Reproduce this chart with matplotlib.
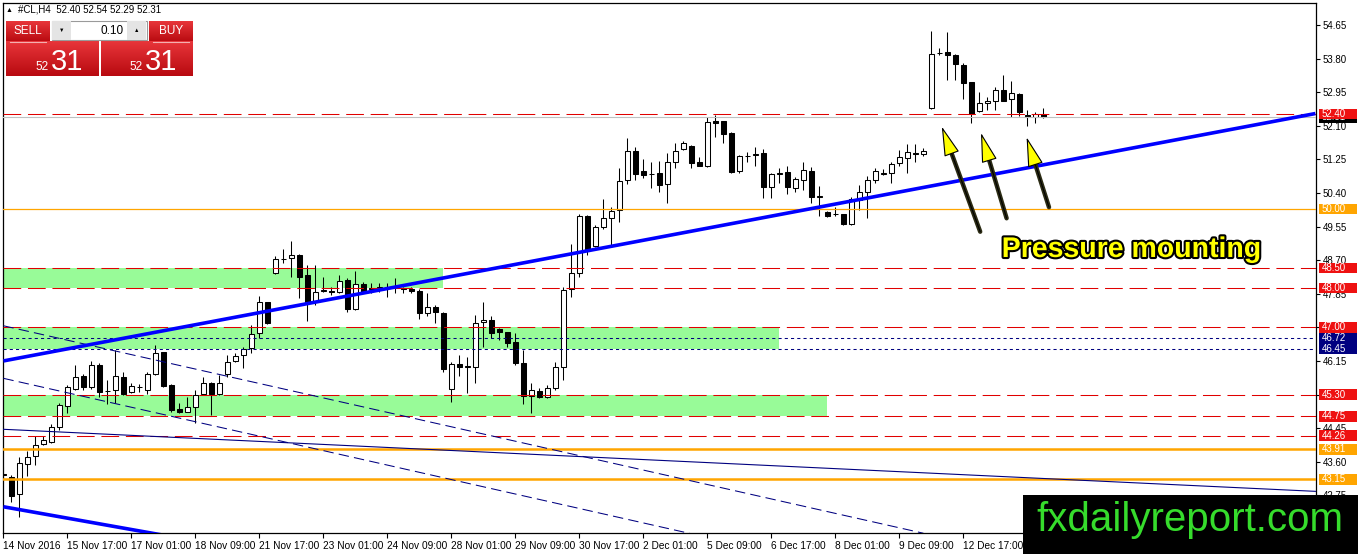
import matplotlib
matplotlib.use("Agg")
import matplotlib.pyplot as plt
import matplotlib.patheffects as pe
import matplotlib.transforms as mtransforms
from matplotlib.patches import Rectangle, FancyArrowPatch
from matplotlib.colors import LinearSegmentedColormap
import numpy as np

plt.rcParams['font.family'] = ['Liberation Sans', 'DejaVu Sans']

# H4 candles, #CL, 14 Nov - 12 Dec 2016
opens = [43.30, 43.22, 42.78, 43.53, 43.74, 44.04, 44.11, 44.49, 45.02, 45.44,
         45.77, 45.50, 46.05, 45.40, 45.41, 45.75, 45.36, 45.49, 45.41, 45.81,
         46.38, 45.54, 44.93, 44.87, 44.98, 45.31, 45.59, 45.31, 45.82, 46.16,
         46.29, 46.47, 46.85, 47.64, 48.37, 48.72, 48.75, 48.83, 48.32, 47.65,
         47.93, 47.91, 47.89, 48.21, 47.46, 48.09, 47.99, 48.00, 48.02, 48.03,
         48.00, 47.96, 47.92, 47.36, 47.51, 47.37, 45.43, 46.07, 46.00, 46.00,
         47.13, 47.19, 46.95, 46.87, 46.62, 46.11, 45.26, 45.40, 45.23, 45.46,
         46.00, 47.96, 48.37, 49.82, 49.07, 49.53, 49.76, 49.97, 50.73, 51.46,
         50.96, 50.88, 50.91, 50.63, 51.19, 51.50, 51.59, 51.18, 51.09, 52.22,
         52.22, 51.92, 50.96, 51.33, 51.36, 51.40, 50.54, 50.89, 50.94, 50.52,
         50.73, 50.96, 50.29, 49.91, 49.87, 49.87, 49.61, 50.22, 50.43, 50.73,
         50.89, 50.90, 51.15, 51.28, 51.42, 51.38, 52.54, 53.94, 53.96, 53.88,
         53.64, 53.22, 52.48, 52.67, 52.73, 53.01, 52.77, 52.90, 52.37, 52.33,
         52.40]
highs = [43.47, 43.26, 43.73, 43.88, 44.25, 44.25, 44.55, 45.08, 45.54, 46.05,
         45.82, 46.16, 46.09, 45.67, 46.43, 45.88, 45.58, 45.57, 45.88, 46.55,
         46.38, 45.57, 45.08, 45.24, 45.41, 45.75, 45.62, 45.79, 46.30, 46.34,
         46.49, 47.06, 47.79, 47.64, 48.81, 48.97, 49.18, 48.86, 48.58, 48.58,
         48.28, 48.01, 48.33, 48.26, 48.43, 48.15, 48.13, 48.11, 48.13, 48.24,
         48.03, 48.01, 47.96, 47.86, 47.56, 47.39, 46.13, 46.30, 46.26, 47.31,
         47.65, 47.29, 46.99, 46.89, 46.85, 46.43, 45.60, 45.46, 45.54, 46.13,
         48.03, 49.10, 49.87, 49.84, 49.59, 50.24, 50.05, 51.02, 51.78, 51.57,
         51.27, 51.19, 51.21, 51.40, 51.66, 51.71, 51.61, 51.32, 52.33, 52.37,
         52.23, 51.94, 51.36, 51.44, 51.57, 51.51, 50.90, 51.02, 51.08, 50.81,
         51.19, 51.06, 50.58, 49.94, 50.05, 49.88, 50.29, 50.60, 50.83, 51.02,
         51.00, 51.19, 51.49, 51.63, 51.63, 51.53, 54.50, 54.06, 54.47, 53.91,
         53.68, 53.22, 52.96, 52.82, 53.09, 53.39, 53.23, 52.94, 52.50, 52.44,
         52.54]
lows = [43.14, 42.59, 42.19, 43.24, 43.52, 44.02, 44.07, 44.40, 44.84, 45.41,
        45.41, 45.43, 45.24, 45.06, 45.08, 45.29, 45.33, 45.37, 45.31, 45.80,
        45.50, 44.87, 44.84, 44.87, 44.57, 45.29, 44.78, 45.29, 45.75, 46.12,
        45.98, 46.36, 46.72, 47.08, 48.35, 48.62, 48.28, 47.73, 47.17, 47.56,
        47.90, 47.82, 47.86, 47.39, 47.43, 47.86, 47.86, 47.90, 47.77, 47.88,
        47.86, 47.88, 47.20, 47.29, 47.10, 45.88, 45.12, 45.77, 45.35, 45.60,
        46.51, 46.72, 46.68, 46.51, 46.05, 45.06, 44.83, 45.20, 45.20, 45.41,
        45.67, 47.77, 48.27, 48.83, 49.04, 49.50, 49.07, 49.67, 50.62, 50.73,
        50.77, 50.52, 50.43, 50.15, 51.02, 51.49, 51.02, 51.08, 51.06, 51.82,
        51.67, 50.91, 50.91, 51.19, 51.07, 50.27, 50.28, 50.66, 50.37, 50.43,
        50.47, 50.14, 49.82, 49.78, 49.82, 49.59, 49.59, 49.97, 49.76, 50.64,
        50.86, 50.64, 51.07, 50.91, 51.19, 51.34, 52.52, 53.89, 53.26, 53.26,
        52.78, 52.16, 52.46, 52.50, 52.50, 52.73, 52.33, 52.36, 52.09, 52.16,
        52.29]
closes = [43.26, 42.74, 43.56, 43.71, 44.02, 44.14, 44.49, 45.03, 45.50, 45.75,
          45.50, 46.05, 45.37, 45.38, 45.77, 45.31, 45.51, 45.48, 45.81, 46.34,
          45.52, 44.91, 44.87, 44.98, 45.29, 45.58, 45.31, 45.58, 46.13, 46.28,
          46.45, 46.82, 47.63, 47.10, 48.72, 48.73, 48.83, 48.28, 47.63, 47.89,
          47.94, 47.90, 48.18, 47.46, 48.10, 47.90, 47.98, 48.01, 48.03, 48.02,
          47.97, 47.92, 47.36, 47.52, 47.38, 45.94, 46.07, 45.99, 46.01, 47.10,
          47.19, 46.86, 46.89, 46.61, 46.10, 45.26, 45.41, 45.23, 45.46, 46.00,
          47.94, 48.37, 49.82, 48.96, 49.55, 49.77, 49.94, 50.70, 51.46, 50.87,
          50.85, 50.87, 50.60, 51.19, 51.47, 51.67, 51.17, 51.09, 52.20, 52.18,
          51.88, 50.94, 51.33, 51.34, 51.38, 50.56, 50.88, 50.90, 50.54, 50.75,
          50.98, 50.29, 50.33, 49.82, 49.86, 49.61, 50.25, 50.43, 50.73, 50.96,
          50.91, 51.13, 51.32, 51.43, 51.38, 51.46, 53.92, 53.95, 53.88, 53.66,
          53.19, 52.40, 52.67, 52.73, 53.01, 52.73, 52.94, 52.44, 52.33, 52.39,
          52.31]

time_labels = ["14 Nov 2016", "15 Nov 17:00", "17 Nov 01:00", "18 Nov 09:00",
               "21 Nov 17:00", "23 Nov 01:00", "24 Nov 09:00", "28 Nov 01:00",
               "29 Nov 09:00", "30 Nov 17:00", "2 Dec 01:00", "5 Dec 09:00",
               "6 Dec 17:00", "8 Dec 01:00", "9 Dec 09:00", "12 Dec 17:00"]
price_ticks = [42.75, 43.60, 44.45, 45.30, 46.15, 47.00, 47.85, 48.70,
               49.55, 50.40, 51.25, 52.10, 52.95, 53.80, 54.65]

red_levels = [52.40, 48.50, 48.00, 47.00, 45.30, 44.75, 44.26]
blue_levels = [46.72, 46.45]
orange_thin = [50.00]
orange_thick = [43.91, 43.15]
bid_price = 52.31

# support zones: (low, high, last bar)
zone_low = [48.00, 46.45, 44.75]
zone_high = [48.50, 47.00, 45.30]
zone_end = [55, 97, 103]

# trend lines (bar index, price)
trend_up_x, trend_up_y = [0, 164], [46.15, 52.41]
trend_low_x, trend_low_y = [0, 20], [42.46, 41.74]
chan_x, chan_y = [0, 164], [44.42, 42.85]
dash_a_x, dash_a_y = [0, 115], [47.04, 41.79]
dash_b_x, dash_b_y = [0, 87], [45.71, 41.73]

# arrows (tail -> tip)
arrow_tail = [(122.1, 49.42), (125.4, 49.76), (130.7, 50.04)]
arrow_tip = [(117.3, 52.08), (122.2, 51.92), (127.9, 51.81)]

W, H = 1358, 554
fig = plt.figure(figsize=(W / 100, H / 100), dpi=100)
ax = fig.add_axes([3 / W, 21 / H, 1313 / W, 530 / H])
ax.set_xlim(-0.05, -0.05 + 1313 / 8)
ax.set_ylim(41.796, 55.207)

o = np.array(opens); c = np.array(closes)
hi = np.array(highs); lo = np.array(lows)
x = np.arange(len(o))
up = c >= o

# zones
for zl, zh, ze in zip(zone_low, zone_high, zone_end):
    ax.add_patch(Rectangle((-1, zl), ze + 1, zh - zl, facecolor='#98fb98',
                           edgecolor='none', zorder=1))

# candles
ax.vlines(x, lo, hi, color='black', lw=0.75, zorder=4)
bottom = np.minimum(o, c)
height = np.maximum(np.abs(c - o), 0.004)
ax.bar(x[up], height[up], bottom=bottom[up], width=0.62, facecolor='white',
       edgecolor='black', lw=0.75, zorder=5)
ax.bar(x[~up], height[~up], bottom=bottom[~up], width=0.62, facecolor='black',
       edgecolor='black', lw=0.75, zorder=5)

# horizontal levels
ax.axhline(bid_price, color='#c0c0c0', lw=0.8, zorder=6)
for lv in red_levels:
    ax.axhline(lv, color='#e00000', lw=0.75, ls=(0, (17, 6.5)), zorder=6)
for lv in blue_levels:
    ax.axhline(lv, color='#000080', lw=0.75, ls=(0, (3, 3)), zorder=6)
for lv in orange_thin:
    ax.axhline(lv, color='#ffa500', lw=0.9, zorder=6)
for lv in orange_thick:
    ax.axhline(lv, color='#ffa500', lw=1.8, zorder=6)

# trend lines
ax.plot(chan_x, chan_y, color='#000080', lw=0.8, zorder=7)
ax.plot(dash_a_x, dash_a_y, color='#000080', lw=0.75, ls=(0, (10, 5)), zorder=7)
ax.plot(dash_b_x, dash_b_y, color='#000080', lw=0.75, ls=(0, (10, 5)), zorder=7)
ax.plot(trend_up_x, trend_up_y, color='#0000ff', lw=2.6, zorder=8, solid_capstyle='butt')
ax.plot(trend_low_x, trend_low_y, color='#0000ff', lw=2.6, zorder=8, solid_capstyle='butt')

# arrows
for tail, tip in zip(arrow_tail, arrow_tip):
    ax.add_patch(FancyArrowPatch(tail, tip, arrowstyle='-', color='#2c2c14', lw=3.2,
                                 shrinkA=0, shrinkB=17, zorder=9))
    ax.add_patch(FancyArrowPatch(tail, tip, arrowstyle='-|>,head_length=1.9,head_width=0.5',
                                 mutation_scale=10, facecolor='#ffff00', edgecolor='black',
                                 lw=0.8, shrinkA=0, shrinkB=0, zorder=10))

ax.text(141.0, 48.78, "Pressure mounting", ha='center', va='baseline',
        fontsize=20.5, fontweight='bold', color='#ffff00', zorder=11,
        path_effects=[pe.withStroke(linewidth=3, foreground='black')])

# axes styling
for s in ax.spines.values():
    s.set_color('black')
    s.set_linewidth(0.9)
ax.yaxis.tick_right()
ax.set_yticks(price_ticks)
ax.set_yticklabels([f"{v:.2f}" for v in price_ticks])
ax.set_xticks(list(range(0, 8 * len(time_labels), 8)))
ax.set_xticklabels(time_labels, ha='left')
ax.tick_params(axis='y', length=3, width=0.8, pad=2, labelsize=7, colors='black')
ax.tick_params(axis='x', length=3.5, width=0.8, pad=2.5, labelsize=7.3, colors='black')

# price labels on the right scale
bt = mtransforms.blended_transform_factory(ax.transAxes, ax.transData)
box_h = 10.5 / 39.52
tag_z = [20]
def price_tag(val, color):
    z = tag_z[0]
    ax.add_patch(Rectangle((1 + 3 / 1313, val - box_h / 2), 38 / 1313, box_h,
                           transform=bt, facecolor=color, edgecolor='none',
                           clip_on=False, zorder=z))
    ax.text(1 + 6 / 1313, val, f"{val:.2f}", transform=bt, color='white',
            fontsize=7, va='center', ha='left', clip_on=False, zorder=z + 1)
    tag_z[0] += 2

price_tag(bid_price, 'black')
for lv in red_levels:
    price_tag(lv, '#ee1111')
for lv in blue_levels:
    price_tag(lv, '#000080')
for lv in orange_thin + orange_thick:
    price_tag(lv, '#ffa500')

# overlay in pixel coordinates: header, trade panel, watermark
ov = fig.add_axes([0, 0, 1, 1], zorder=5)
ov.patch.set_alpha(0)
ov.axis('off')

red_cmap = LinearSegmentedColormap.from_list('r', ['#e8353a', '#b80a10'])
grad = np.linspace(0, 1, 64).reshape(-1, 1)
for ext in [(6, 49.3, 41.7, 20.7), (149.3, 192.7, 41.7, 20.7),
            (6, 99, 76, 41.7), (101, 192.7, 76, 41.7)]:
    ov.imshow(grad, extent=ext, cmap=red_cmap, aspect='auto', zorder=1)
ov.plot([10, 46], [41.7, 41.7], color='#f3b0b0', lw=0.8, zorder=2)
ov.plot([153, 189], [41.7, 41.7], color='#f3b0b0', lw=0.8, zorder=2)
ov.add_patch(Rectangle((51.7, 20.7), 95, 19.3, facecolor='white', edgecolor='#9a9a9a', lw=0.8, zorder=2))
ov.add_patch(Rectangle((52.2, 21.2), 19, 18.3, facecolor='#e4e4e4', edgecolor='none', zorder=3))
ov.add_patch(Rectangle((127.2, 21.2), 19, 18.3, facecolor='#e4e4e4', edgecolor='none', zorder=3))
ov.text(61.7, 30.5, "▼", fontsize=4, ha='center', va='center', zorder=4)
ov.text(136.7, 30, "▲", fontsize=4, ha='center', va='center', zorder=4)
ov.text(124, 30.5, "0.10", fontsize=8.5, ha='right', va='center', zorder=4)
ov.text(27.5, 31, "SELL", fontsize=8.5, color='white', ha='center', va='center', zorder=4)
ov.text(171, 31, "BUY", fontsize=8.5, color='white', ha='center', va='center', zorder=4)
ov.text(49, 70, "52", fontsize=8.5, color='white', ha='right', va='baseline', zorder=4)
ov.text(51, 70, "31", fontsize=21, color='white', ha='left', va='baseline', zorder=4)
ov.text(143, 70, "52", fontsize=8.5, color='white', ha='right', va='baseline', zorder=4)
ov.text(145, 70, "31", fontsize=21, color='white', ha='left', va='baseline', zorder=4)

ov.text(9, 10, "▲", fontsize=5, ha='center', va='center', zorder=4)
ov.text(18, 10, "#CL,H4  52.40 52.54 52.29 52.31", fontsize=7, ha='left', va='center', zorder=4)

ov.add_patch(Rectangle((1023, 495), W - 1023, H - 495, facecolor='black', edgecolor='none', zorder=4))
ov.text(1190, 531, "fxdailyreport.com", fontsize=29, color='#36dc2c', ha='center',
        va='baseline', zorder=5)

ov.set_xlim(0, W)
ov.set_ylim(H, 0)

fig.savefig("out.png", dpi=100, facecolor='white')
